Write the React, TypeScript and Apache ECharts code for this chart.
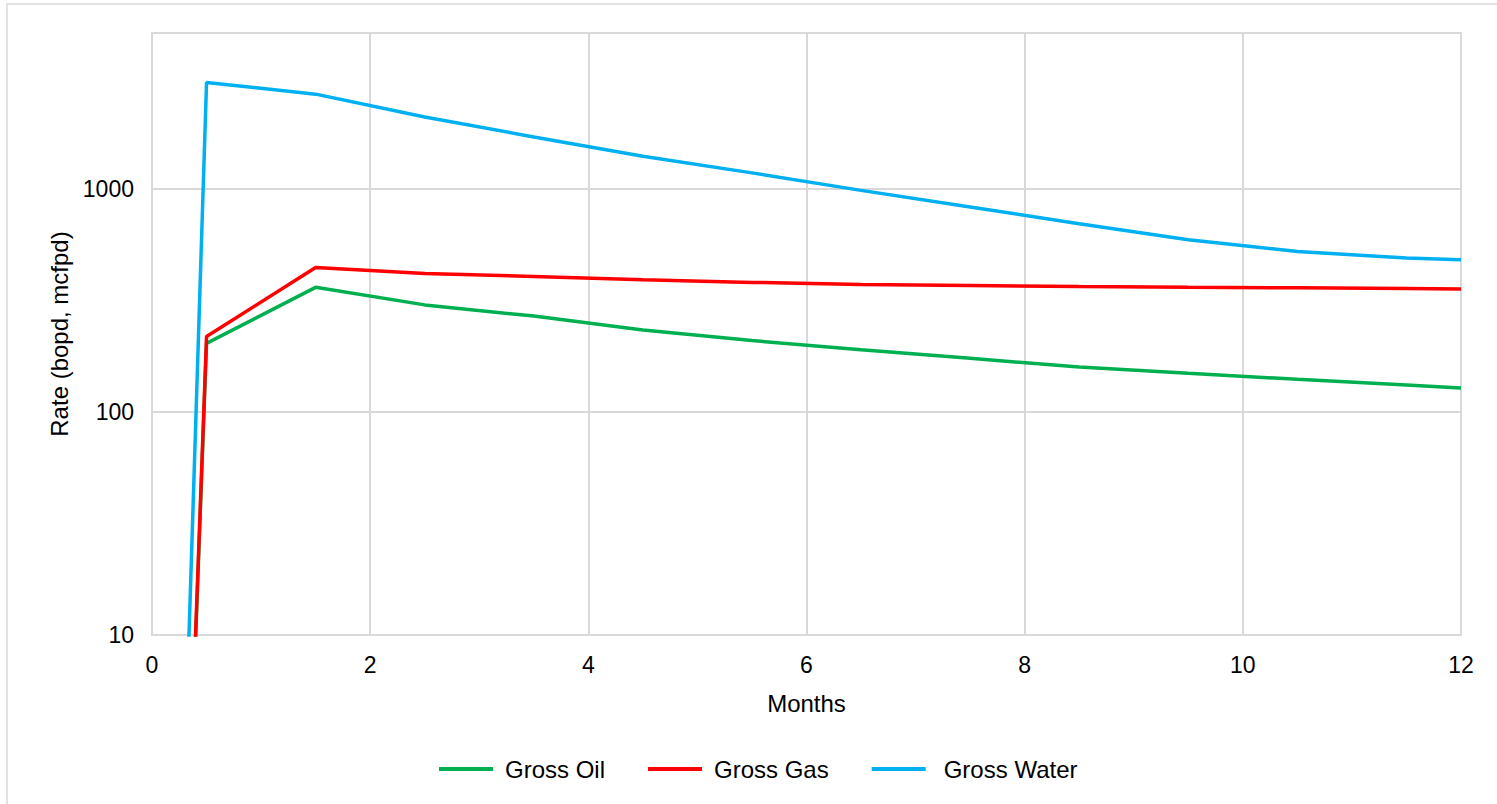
import React, { useEffect, useRef } from "react";
import * as echarts from "echarts";

const months = [0, 0.5, 1.5, 2.5, 3.5, 4.5, 5.5, 6.5, 7.5, 8.5, 9.5, 10.5, 11.5, 12];
const grossOil = [0.00005, 203, 362, 302, 269, 233, 209, 190, 174, 159, 149, 140, 132, 128];
const grossGas = [0.00005, 218, 444, 418, 405, 391, 381, 373, 369, 365, 362, 360, 358, 356];
const grossWater = [0.00006, 3000, 2660, 2100, 1710, 1400, 1180, 985, 830, 698, 592, 524, 490, 481];
const seriesNames = ["Gross Oil", "Gross Gas", "Gross Water"];
const seriesColors = ["#00B050", "#FF0000", "#00B0F0"];
const xTicks = { min: 0, max: 12, interval: 2 };
const yRange = { min: 10, max: 5000 };

const FONT = "'Liberation Sans', Arial, sans-serif";

export default function App() {
  const ref = useRef<HTMLDivElement>(null);
  useEffect(() => {
    document.body.style.margin = "0";
    if (!ref.current) return;
    const chart = echarts.init(ref.current, null, { renderer: "svg" });
    const values = [grossOil, grossGas, grossWater];
    chart.setOption({
      animation: false,
      backgroundColor: "#ffffff",
      textStyle: { fontFamily: FONT },
      graphic: [
        {
          type: "rect",
          shape: { x: 7, y: 4, width: 1700, height: 900 },
          style: { fill: "none", stroke: "#d9d9d9", lineWidth: 1.5 },
          silent: true,
        },
      ],
      grid: {
        left: 152,
        right: 36,
        top: 33,
        bottom: 169,
        show: true,
        borderColor: "#d9d9d9",
        borderWidth: 2,
        backgroundColor: "transparent",
      },
      legend: {
        bottom: 18,
        left: 434,
        icon: "rect",
        itemWidth: 54,
        itemHeight: 4,
        itemGap: 43,
        textStyle: { fontFamily: FONT, fontSize: 24, color: "#000", padding: [0, 0, 0, 7] },
        data: seriesNames.map((n, i) =>
          i === 2 ? { name: n, textStyle: { padding: [0, 0, 0, 13] } } : { name: n }
        ),
      },
      xAxis: {
        type: "value",
        min: xTicks.min,
        max: xTicks.max,
        interval: xTicks.interval,
        name: "Months",
        nameLocation: "middle",
        nameGap: 56,
        nameTextStyle: { fontFamily: FONT, fontSize: 24, color: "#000" },
        axisLine: { show: true, lineStyle: { color: "#d9d9d9", width: 2 } },
        axisTick: { show: false },
        axisLabel: { fontFamily: FONT, fontSize: 23, color: "#000", margin: 18 },
        splitLine: { show: true, lineStyle: { color: "#d9d9d9", width: 2 } },
      },
      yAxis: {
        type: "log",
        logBase: 10,
        min: yRange.min,
        max: yRange.max,
        name: "Rate (bopd, mcfpd)",
        nameLocation: "middle",
        nameGap: 78,
        nameTextStyle: { fontFamily: FONT, fontSize: 24, color: "#000" },
        axisLine: { show: true, lineStyle: { color: "#d9d9d9", width: 2 } },
        axisTick: { show: false },
        axisLabel: {
          fontFamily: FONT,
          fontSize: 23,
          color: "#000",
          margin: 18,
          showMaxLabel: false,
          formatter: (v: number) => String(Math.round(v)),
        },
        splitLine: { show: true, lineStyle: { color: "#d9d9d9", width: 2 } },
      },
      series: seriesNames.map((name, i) => ({
        name,
        type: "line",
        data: months.map((m, j) => [m, values[i][j]]),
        symbol: "none",
        clip: true,
        lineStyle: { color: seriesColors[i], width: 3.5 },
        itemStyle: { color: seriesColors[i] },
      })),
    });
    return () => chart.dispose();
  }, []);
  return <div ref={ref} style={{ width: "100%", height: "804px" }} />;
}
